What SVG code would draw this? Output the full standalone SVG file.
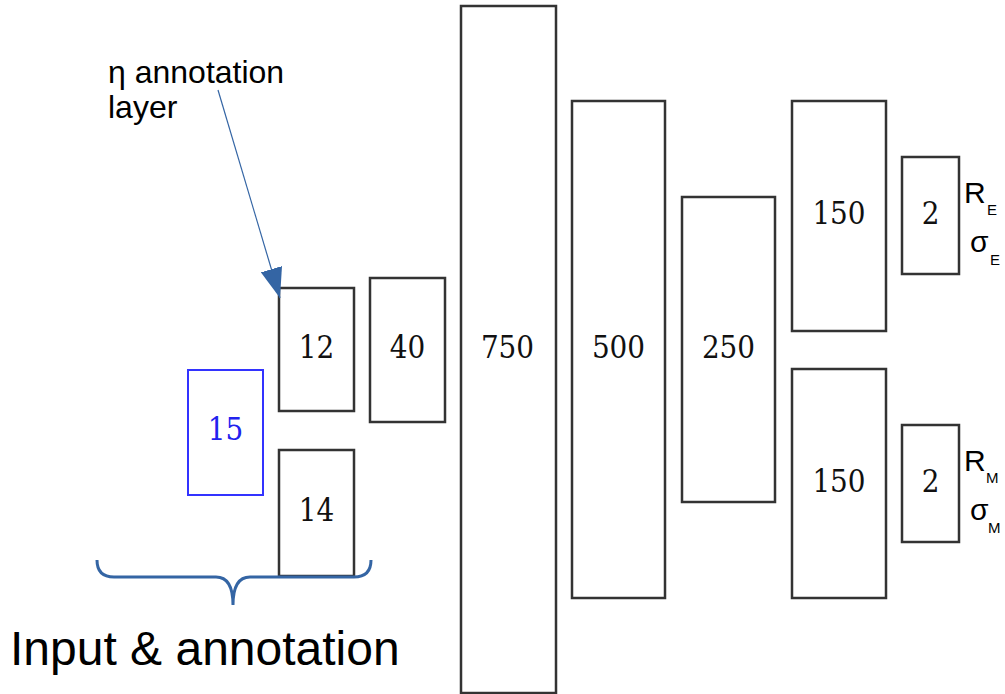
<svg xmlns="http://www.w3.org/2000/svg" width="1005" height="694" viewBox="0 0 1005 694">
<style>
.box{fill:#fff;stroke:#333;stroke-width:2.5}
.num{font-family:"DejaVu Serif Condensed","DejaVu Serif",serif;font-stretch:condensed;font-size:31px;text-anchor:middle;fill:#111}
.lbl{font-family:"Liberation Sans",Arial,sans-serif;fill:#000}
.big{font-size:30px}
.sub{font-size:15px}
</style>
<defs>
<marker id="ah" viewBox="0 0 30 22" refX="30" refY="11" markerWidth="30" markerHeight="22" markerUnits="userSpaceOnUse" orient="auto">
<path d="M0,0 L30,11 L0,22 z" fill="#3465a4"/>
</marker>
</defs>
<rect width="1005" height="694" fill="#fff"/>
<g id="n15"><rect x="188" y="370" width="75" height="125" fill="#fff" stroke="#3333ff" stroke-width="2"/><text class="num" x="225.5" y="440" style="fill:#2222ee">15</text></g>
<g id="n12"><rect class="box" x="279" y="288" width="75" height="123"/><text class="num" x="316.5" y="358">12</text></g>
<g id="n14"><rect class="box" x="279" y="450" width="75" height="126"/><text class="num" x="316.5" y="521">14</text></g>
<g id="n40"><rect class="box" x="370" y="278" width="75" height="144"/><text class="num" x="407.5" y="358">40</text></g>
<g id="n750"><rect class="box" x="461" y="6" width="95" height="687"/><text class="num" x="507.5" y="358">750</text></g>
<g id="n500"><rect class="box" x="572" y="101" width="93" height="497"/><text class="num" x="618.5" y="358">500</text></g>
<g id="n250"><rect class="box" x="682" y="197" width="93" height="305"/><text class="num" x="728.5" y="358">250</text></g>
<g id="n150a"><rect class="box" x="792" y="101" width="94" height="230"/><text class="num" x="839" y="224">150</text></g>
<g id="n150b"><rect class="box" x="792" y="369" width="94" height="229"/><text class="num" x="839" y="492">150</text></g>
<g id="n2a"><rect class="box" x="902" y="157" width="57" height="117"/><text class="num" x="930.5" y="224">2</text></g>
<g id="n2b"><rect class="box" x="902" y="425" width="57" height="117"/><text class="num" x="930.5" y="492">2</text></g>
<g id="outE">
<text class="lbl big" x="964" y="203">R</text><text class="lbl sub" x="987" y="215">E</text>
<text class="lbl big" x="970" y="252">σ</text><text class="lbl sub" x="990" y="265">E</text>
</g>
<g id="outM">
<text class="lbl big" x="964" y="471">R</text><text class="lbl sub" x="986" y="483">M</text>
<text class="lbl big" x="970" y="520">σ</text><text class="lbl sub" x="988" y="533">M</text>
</g>
<g id="annot"><text class="lbl" x="108" y="83" font-size="32">η annotation</text><text class="lbl" x="108" y="118" font-size="32">layer</text></g>
<g id="input"><text class="lbl" x="10" y="665" font-size="48">Input &amp; annotation</text></g>
<g id="connectors">
<line x1="218" y1="90" x2="280" y2="298" stroke="#3465a4" stroke-width="1.2" marker-end="url(#ah)"/>
<path d="M97,560 Q97,577 114,577 L216,577 Q233,577 233,605 Q233,577 250,577 L354,577 Q371,577 371,560" fill="none" stroke="#3465a4" stroke-width="3"/>
</g>
</svg>
